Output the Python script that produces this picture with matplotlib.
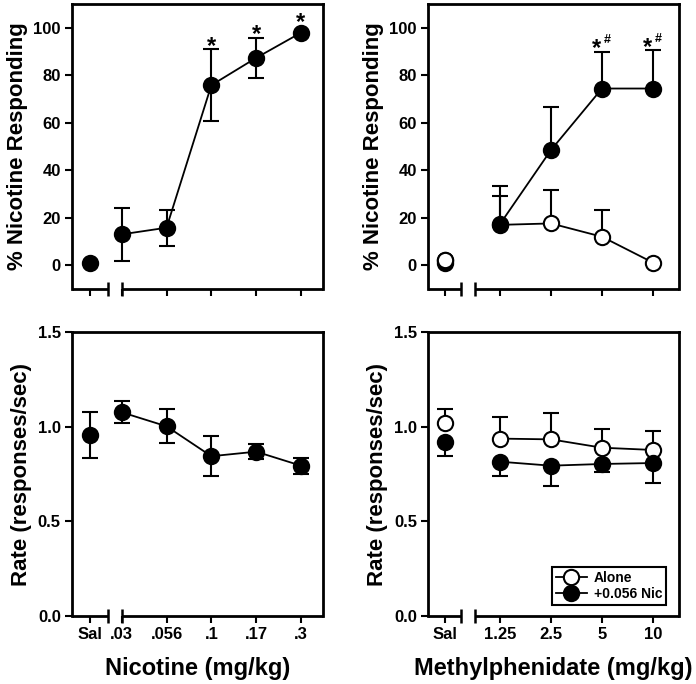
import matplotlib
matplotlib.use("Agg")
import matplotlib.pyplot as plt

plt.rcParams["font.family"] = ["Liberation Sans", "DejaVu Sans"]
plt.rcParams["font.weight"] = "bold"
plt.rcParams["axes.labelweight"] = "bold"

# --- nicotine dose-response (left column) ---
NIC_LABELS = ["Sal", ".03", ".056", ".1", ".17", ".3"]
NIC_PCT = [1.1, 13.0, 15.8, 75.8, 87.3, 97.9]
NIC_PCT_SEM = [0.0, 11.2, 7.5, 15.2, 8.5, 0.0]
NIC_RATE = [0.956, 1.076, 1.002, 0.844, 0.868, 0.794]
NIC_RATE_SEM = [0.120, 0.057, 0.090, 0.105, 0.040, 0.042]
NIC_MARKS = ["", "", "", "*", "*", "*"]

# --- methylphenidate alone / with 0.056 nicotine (right column) ---
MPH_LABELS = ["Sal", "1.25", "2.5", "5", "10"]
MPH_ALONE_PCT = [2.4, 17.0, 17.6, 12.0, 1.1]
MPH_ALONE_PCT_SEM = [0.0, 12.3, 14.1, 11.1, 0.0]
MPH_NIC_PCT = [0.8, 17.3, 48.5, 74.4, 74.4]
MPH_NIC_PCT_SEM = [0.0, 16.1, 18.3, 15.5, 16.2]
MPH_ALONE_RATE = [1.018, 0.937, 0.933, 0.889, 0.877]
MPH_ALONE_RATE_SEM = [0.077, 0.114, 0.137, 0.100, 0.102]
MPH_NIC_RATE = [0.919, 0.815, 0.794, 0.803, 0.808]
MPH_NIC_RATE_SEM = [0.074, 0.073, 0.107, 0.040, 0.105]
MPH_MARKS = ["", "", "", "*#", "*#"]

# layout: saline offset, x limits and axis-break positions (data units)
NIC_SAL_GAP, NIC_XLIM, NIC_BREAK = 0.71, (-0.11, 5.49), (0.69, 1.0)
MPH_SAL_GAP, MPH_XLIM, MPH_BREAK = 1.08, (-0.41, 4.51), (0.235, 0.51)

MS = 11
LW = 1.5


def xpositions(labels, sal_gap):
    return [1 - sal_gap] + list(range(1, len(labels)))


def style_axes(ax, xs, labels, xlim, brk, ylim, yticks, show_xlabels):
    ax.set_xlim(*xlim)
    ax.set_ylim(*ylim)
    ax.set_yticks(yticks)
    ax.set_xticks(xs)
    ax.set_xticklabels(labels if show_xlabels else [])
    for side in ["left", "top", "right"]:
        ax.spines[side].set_linewidth(2)
    ax.spines["bottom"].set_visible(False)
    ax.tick_params(direction="out", length=5, width=1.5, labelsize=12, pad=3)
    # broken x axis between saline and the first dose
    trans = ax.get_xaxis_transform()
    kw = dict(color="black", lw=2, transform=trans, clip_on=False, solid_capstyle="butt")
    ax.plot([xlim[0], brk[0]], [0, 0], **kw)
    ax.plot([brk[1], xlim[1]], [0, 0], **kw)
    ax.plot(brk, [0, 0], ls="none", marker="|", ms=10, mew=1.8, color="black",
            transform=trans, clip_on=False)


def series(ax, xs, y, sem, filled, sides="both", zorder=3):
    lower = sem if sides in ("both", "lower") else [0] * len(sem)
    upper = sem if sides in ("both", "upper") else [0] * len(sem)
    ax.errorbar(xs, y, yerr=[lower, upper], fmt="none", ecolor="black",
                elinewidth=LW, capsize=6, capthick=LW, zorder=zorder)
    face = "black" if filled else "white"
    # saline point stands alone, dose points are connected
    ax.plot(xs[1:], y[1:], "-o", color="black", lw=1.3, ms=MS, mfc=face,
            mec="black", mew=1.5, zorder=zorder + 1)
    ax.plot(xs[:1], y[:1], "o", ms=MS, mfc=face, mec="black", mew=1.5,
            zorder=zorder + 1)


def marks(ax, xs, y, sem, texts):
    for x, v, s, t in zip(xs, y, sem, texts):
        if not t:
            continue
        off = (MS / 2 if s == 0 else 0) + 2
        ax.annotate(t[0], (x, v + s), xytext=(-4 if len(t) > 1 else 0, off - 4.5),
                    textcoords="offset points", ha="center", va="baseline",
                    fontsize=17, fontweight="bold")
        if len(t) > 1:
            ax.annotate(t[1], (x, v + s), xytext=(4, off + 4),
                        textcoords="offset points", ha="center", va="baseline",
                        fontsize=9, fontweight="bold")


fig = plt.figure(figsize=(6.96, 6.84), dpi=100)
ax_tl = fig.add_axes([0.1034, 0.5775, 0.3606, 0.4167])
ax_tr = fig.add_axes([0.615, 0.5775, 0.3606, 0.4167])
ax_bl = fig.add_axes([0.1034, 0.0994, 0.3606, 0.4152])
ax_br = fig.add_axes([0.615, 0.0994, 0.3606, 0.4152])

nx = xpositions(NIC_LABELS, NIC_SAL_GAP)
mx = xpositions(MPH_LABELS, MPH_SAL_GAP)

# top left: % nicotine responding after nicotine
series(ax_tl, nx, NIC_PCT, NIC_PCT_SEM, True)
marks(ax_tl, nx, NIC_PCT, NIC_PCT_SEM, NIC_MARKS)
style_axes(ax_tl, nx, NIC_LABELS, NIC_XLIM, NIC_BREAK, (-10, 110),
           range(0, 101, 20), False)
ax_tl.set_ylabel("% Nicotine Responding", fontsize=16, labelpad=4)

# top right: % nicotine responding after methylphenidate
series(ax_tr, mx, MPH_ALONE_PCT, MPH_ALONE_PCT_SEM, False, "upper", zorder=3)
series(ax_tr, mx, MPH_NIC_PCT, MPH_NIC_PCT_SEM, True, "upper", zorder=5)
ax_tr.plot(mx[:1], MPH_ALONE_PCT[:1], "o", ms=MS, mfc="white", mec="black",
           mew=1.5, zorder=8)
marks(ax_tr, mx, MPH_NIC_PCT, MPH_NIC_PCT_SEM, MPH_MARKS)
style_axes(ax_tr, mx, MPH_LABELS, MPH_XLIM, MPH_BREAK, (-10, 110),
           range(0, 101, 20), False)
ax_tr.set_ylabel("% Nicotine Responding", fontsize=16, labelpad=4)

# bottom left: response rate after nicotine
series(ax_bl, nx, NIC_RATE, NIC_RATE_SEM, True)
style_axes(ax_bl, nx, NIC_LABELS, NIC_XLIM, NIC_BREAK, (0, 1.5),
           [0.0, 0.5, 1.0, 1.5], True)
ax_bl.set_yticklabels(["0.0", "0.5", "1.0", "1.5"])
ax_bl.set_ylabel("Rate (responses/sec)", fontsize=16, labelpad=4)
ax_bl.set_xlabel("Nicotine (mg/kg)", fontsize=17, labelpad=11)

# bottom right: response rate after methylphenidate
series(ax_br, mx, MPH_ALONE_RATE, MPH_ALONE_RATE_SEM, False, "upper")
series(ax_br, mx, MPH_NIC_RATE, MPH_NIC_RATE_SEM, True, "lower")
style_axes(ax_br, mx, MPH_LABELS, MPH_XLIM, MPH_BREAK, (0, 1.5),
           [0.0, 0.5, 1.0, 1.5], True)
ax_br.set_yticklabels(["0.0", "0.5", "1.0", "1.5"])
ax_br.set_ylabel("Rate (responses/sec)", fontsize=16, labelpad=4)
ax_br.set_xlabel("Methylphenidate (mg/kg)", fontsize=17, labelpad=11)

h_alone = plt.Line2D([], [], color="black", lw=1.3, marker="o", ms=MS,
                     mfc="white", mec="black", mew=1.5)
h_nic = plt.Line2D([], [], color="black", lw=1.3, marker="o", ms=MS,
                   mfc="black", mec="black", mew=1.5)
leg = ax_br.legend([h_alone, h_nic], ["Alone", "+0.056 Nic"], loc="lower left",
                   bbox_to_anchor=(0.494, 0.039), borderaxespad=0, fancybox=False,
                   framealpha=1, edgecolor="black", fontsize=10,
                   handlelength=2.2, handletextpad=0.5, labelspacing=0.15,
                   borderpad=0.3)
leg.get_frame().set_linewidth(1.5)

fig.savefig("out.png", dpi=100)
